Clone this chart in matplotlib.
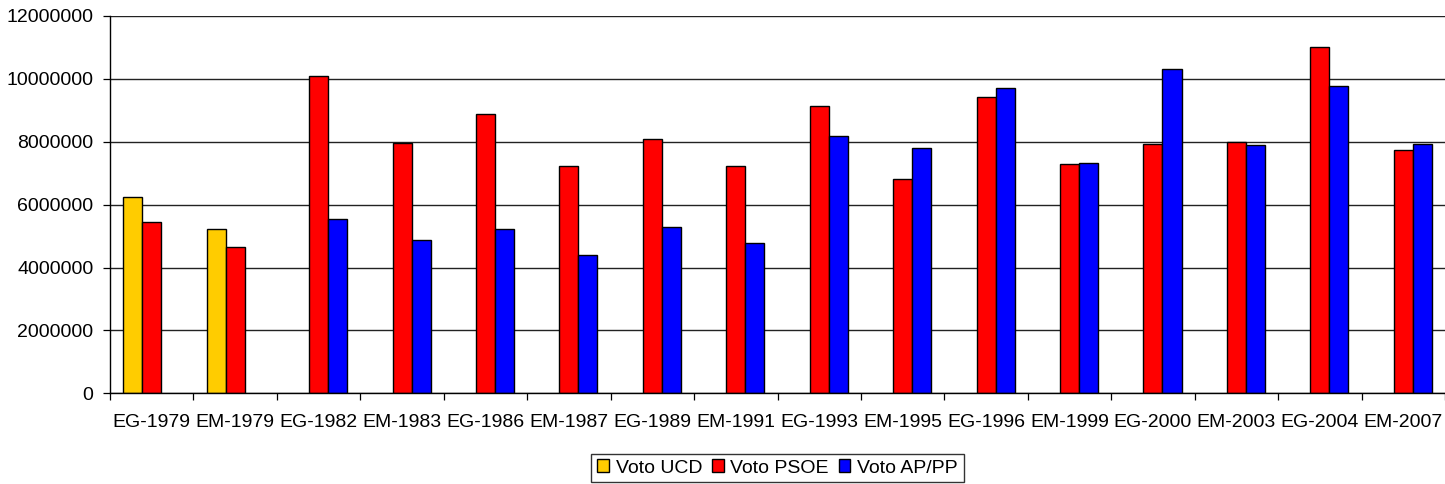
import numpy as np
import matplotlib
matplotlib.use('Agg')
import matplotlib.pyplot as plt

plt.rcParams['font.family'] = ['Liberation Sans', 'DejaVu Sans']

categories = ['EG-1979', 'EM-1979', 'EG-1982', 'EM-1983', 'EG-1986', 'EM-1987',
              'EG-1989', 'EM-1991', 'EG-1993', 'EM-1995', 'EG-1996', 'EM-1999',
              'EG-2000', 'EM-2003', 'EG-2004', 'EM-2007']

voto_ucd = [6230000, 5240000] + [np.nan] * 14
voto_psoe = [5450000, 4650000, 10090000, 7950000, 8880000, 7220000, 8090000, 7220000,
             9130000, 6830000, 9420000, 7290000, 7920000, 8000000, 11010000, 7750000]
voto_pp = [np.nan, np.nan, 5530000, 4870000, 5240000, 4400000, 5280000, 4780000,
           8170000, 7800000, 9720000, 7340000, 10300000, 7890000, 9760000, 7920000]

fig = plt.figure(figsize=(14.45, 4.84), dpi=100)
ax = fig.add_axes([110 / 1445, 1 - 393.3 / 484, 1 - 110 / 1445, (393.3 - 16) / 484])

x = np.arange(len(categories)) + 0.5
w = 0.228
ax.bar(x - w, voto_ucd, w, color='#FFCC00', edgecolor='black', linewidth=1.0,
       label='Voto UCD', zorder=3)
ax.bar(x, voto_psoe, w, color='#FF0000', edgecolor='black', linewidth=1.0,
       label='Voto PSOE', zorder=3)
ax.bar(x + w, voto_pp, w, color='#0000FF', edgecolor='black', linewidth=1.0,
       label='Voto AP/PP', zorder=3)

ax.set_xlim(0, len(categories))
ax.set_ylim(0, 12000000)
ax.set_yticks(np.arange(0, 12000001, 2000000))
ax.set_yticklabels([str(v) for v in range(0, 12000001, 2000000)])
ax.set_xticks(np.arange(len(categories) + 1))
ax.set_xticklabels([])
ax.set_xticks(x, minor=True)
ax.set_xticklabels(categories, minor=True)
ax.tick_params(axis='x', which='minor', length=0, pad=15, labelsize=14)
ax.tick_params(axis='x', which='major', length=5, width=0.9, direction='out')
ax.tick_params(axis='y', length=5, width=0.9, pad=7, labelsize=14)

ax.yaxis.grid(True, color='#222222', linewidth=1.0, zorder=0)
ax.set_axisbelow(True)
for s in ['top', 'right']:
    ax.spines[s].set_visible(False)
for s in ['left', 'bottom']:
    ax.spines[s].set_linewidth(1.0)
    ax.spines[s].set_zorder(4)

leg = ax.legend(loc='center', bbox_to_anchor=(0.5, -0.198), ncol=3, fontsize=14,
                frameon=True, fancybox=False, edgecolor='black', handlelength=0.6,
                handleheight=0.6, handletextpad=0.35, columnspacing=0.5,
                borderpad=0.3, borderaxespad=0)
leg.get_frame().set_linewidth(1.0)

fig.savefig('out.png', dpi=100)
